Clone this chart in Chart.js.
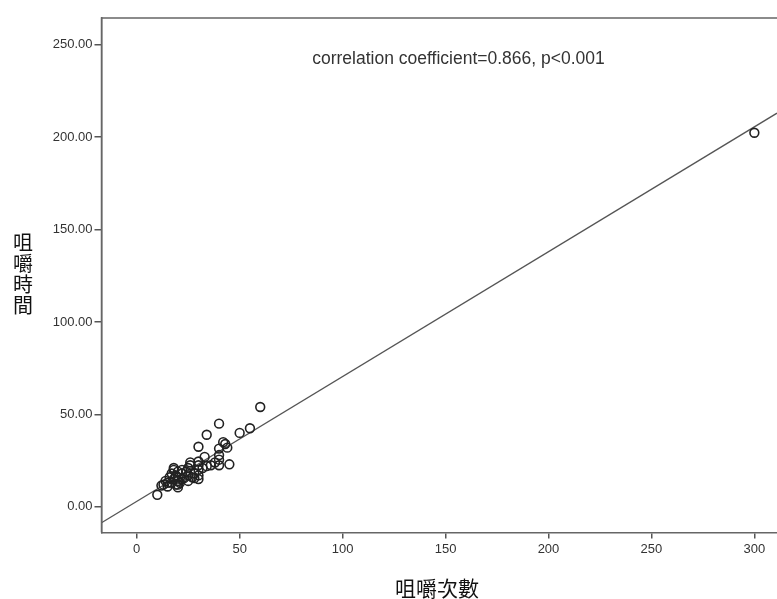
<!DOCTYPE html>
<html>
<head>
<meta charset="utf-8">
<script src="https://cdn.jsdelivr.net/npm/chart.js@4/dist/chart.umd.min.js"></script>
<style>
html,body{margin:0;padding:0;background:#fff;overflow:hidden;}
#wrap{width:777px;height:599px;position:relative;overflow:hidden;}
#inner{width:820px;height:599px;position:absolute;left:0;top:0;}
</style>
</head>
<body>
<div id="wrap"><div id="inner"><canvas id="c" width="777" height="599"></canvas></div></div>
<script>
// chewing count (x) and chewing time (y)
const chewCount = [10,12,13,14,15,15,16,17,17,18,18,18,19,19,20,20,20,20,20,21,22,22,22,23,24,25,25,25,26,26,27,28,28,30,30,30,30,30,30,32,33,34,34,36,38,40,40,40,40,40,42,43,44,45,50,55,60,300];
const chewTime  = [6.5,11.5,12,14,11,13,16,13,18,15,20,21,12,17,10.5,12,14,16,19,13,15,18,20,15.5,19,14,17,21,22.5,24,16,15.5,18,15,17,20,22.5,24.5,32.5,21,27,22,39,22.5,24,22.5,25.5,28,31.5,45,35,34,32,23,40,42.5,54,202.4];
// fit line endpoints read at the plot edges
const fitX = [-17.1, 311];
const fitY = [-8.6, 213];
const xTicks = [0,50,100,150,200,250,300];
const yTicks = [0,50,100,150,200,250];
const xTitle = '咀嚼次數';
const yTitle = '咀嚼時間';
const note = 'correlation coefficient=0.866, p<0.001';

const axisColor = '#555';
const tickFont = {family:'"Liberation Sans", Arial, sans-serif', size:13};

const frame = {
  id:'frame',
  afterDraw(chart){
    const {ctx, chartArea:a} = chart;
    ctx.save();
    ctx.strokeStyle = '#666';
    ctx.lineWidth = 1.5;
    ctx.beginPath();
    ctx.moveTo(a.left, a.bottom);
    ctx.lineTo(a.left, a.top);
    ctx.lineTo(a.right, a.top);
    ctx.stroke();
    // note text
    ctx.fillStyle = '#333';
    ctx.font = '17.5px "Liberation Sans", Arial, sans-serif';
    ctx.textAlign = 'center';
    ctx.textBaseline = 'alphabetic';
    ctx.fillText(note, 458.5, 63.5);
    // titles
    ctx.textBaseline = 'middle';
    ctx.fillStyle = '#111';
    ctx.font = '21px "Noto Sans CJK TC", sans-serif';
    ctx.fillText(xTitle, 437, 588);
    ctx.font = '20px "Noto Sans CJK TC", sans-serif';
    const chars = Array.from(yTitle);
    chars.forEach((ch,i)=>{ ctx.fillText(ch, 23, 242 + i*21); });
    ctx.restore();
  }
};

const chart = new Chart(document.getElementById('c'), {
  type:'scatter',
  data:{
    datasets:[
      {
        data: chewCount.map((x,i)=>({x, y: chewTime[i]})),
        pointStyle:'circle', pointRadius:4.4, pointHoverRadius:4.4,
        borderColor:'#222', borderWidth:1.6, backgroundColor:'rgba(0,0,0,0)',
        order:1
      },
      {
        type:'line',
        data: fitX.map((x,i)=>({x, y: fitY[i]})),
        borderColor:'#555', borderWidth:1.3, pointRadius:0, fill:false,
        order:2
      }
    ]
  },
  plugins:[frame],
  options:{
    responsive:false, maintainAspectRatio:false, animation:false,
    layout:{padding:{top:18,left:0,right:0,bottom:0}},
    plugins:{legend:{display:false}, tooltip:{enabled:false}},
    scales:{
      x:{
        type:'linear', min:fitX[0], max:fitX[1],
        afterBuildTicks(s){ s.ticks = xTicks.map(v=>({value:v})); },
        afterFit(s){ s.height = 66.5; s.paddingLeft = 0; s.paddingRight = 0; },
        grid:{display:true, drawOnChartArea:false, drawTicks:true, tickLength:6, color:axisColor, lineWidth:1.5},
        border:{display:true, color:'#666', width:1.5},
        ticks:{color:'#333', font:tickFont, padding:3, maxRotation:0, autoSkip:false}
      },
      y:{
        type:'linear', min:-13.9, max:264.5,
        afterBuildTicks(s){ s.ticks = yTicks.map(v=>({value:v})); },
        afterFit(s){ s.width = 101.5; s.paddingTop = 0; s.paddingBottom = 0; },
        grid:{display:true, drawOnChartArea:false, drawTicks:true, tickLength:7, color:axisColor, lineWidth:1.5},
        border:{display:true, color:'#666', width:1.5},
        ticks:{color:'#333', font:tickFont, padding:2, autoSkip:false, callback:v=>Number(v).toFixed(2)}
      }
    }
  }
});
// make the plot area reach the right edge of the 777px window
const gap = 777 - chart.chartArea.right;
if (Math.abs(gap) > 0.5) {
  chart.resize(Math.round(chart.width + gap), 599);
}
</script>
</body>
</html>
